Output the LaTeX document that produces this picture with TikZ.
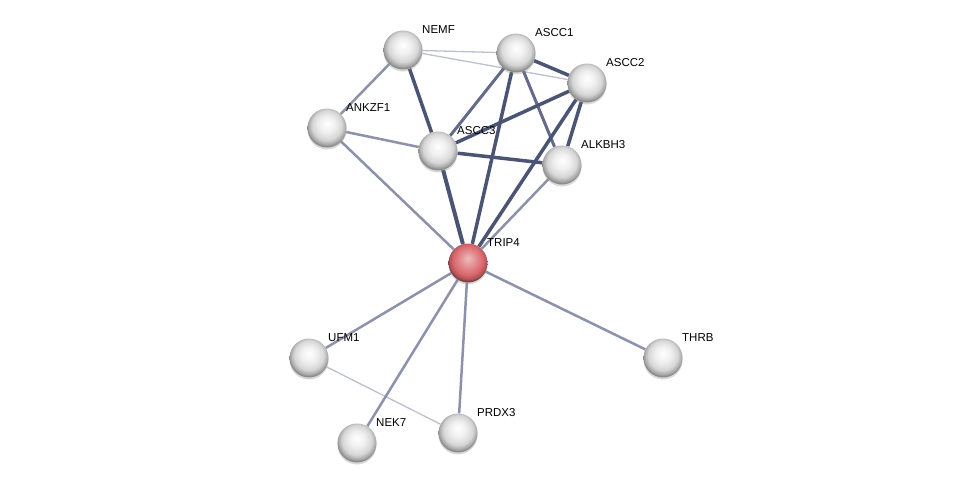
\documentclass[tikz,border=0pt]{standalone}
\usepackage{fontspec}
\setmainfont{Liberation Sans}
\usetikzlibrary{backgrounds,shadows}
\definecolor{edgedark}{HTML}{4C5474}
\definecolor{edgemid}{HTML}{646B8A}
\definecolor{edgelight}{HTML}{8C92AB}
\definecolor{edgefaint}{HTML}{BDC0CE}
\definecolor{redball}{HTML}{D9686C}
\pgfdeclareradialshading{greyball}{\pgfpoint{0bp}{6bp}}{color(0bp)=(white);
  color(10bp)=(white!94!black); color(19bp)=(white!84!black);
  color(24bp)=(white!66!black); color(26bp)=(white!55!black); color(50bp)=(white!55!black)}
\pgfdeclareradialshading{redshade}{\pgfpoint{0bp}{6bp}}{color(0bp)=(redball!45!white);
  color(10bp)=(redball!75!white); color(19bp)=(redball);
  color(24bp)=(redball!80!black); color(26bp)=(redball!60!black); color(50bp)=(redball!60!black)}
\tikzset{
  prot/.style={circle,minimum size=39pt,inner sep=0pt,shading=greyball,
    drop shadow={shadow xshift=0pt,shadow yshift=-2pt,opacity=0.3}},
  query/.style={prot,shading=redshade},
  lbl/.style={anchor=base west,inner sep=0pt,font=\fontsize{11.5}{13}\selectfont},
  strong/.style={edgedark,line width=3.5pt},
  medium/.style={edgemid,line width=3pt},
  weak/.style={edgelight,line width=2.5pt},
  faint/.style={edgefaint,line width=1.3pt}
}
\begin{document}
\begin{tikzpicture}[x=1pt,y=-1pt]
  \useasboundingbox (0,0) rectangle (976,488);
  \foreach \n/\x/\y in {NEMF/403/50, ASCC1/516/53, ASCC2/587/83, ANKZF1/327/128,
      ASCC3/438/151, ALKBH3/562/165, UFM1/309/358, THRB/663/358,
      NEK7/357/443, PRDX3/458/433} {
    \node[prot] (\n) at (\x,\y) {};
    \node[lbl] (\n-lbl) at ({\x+19},{\y-17}) {\n};
  }
  \node[query] (TRIP4) at (468,263) {};
  \node[lbl] (TRIP4-lbl) at (487,246) {TRIP4};
  \begin{pgfonlayer}{background}
    \draw[faint] (NEMF) -- (ASCC1);
    \draw[faint] (NEMF) -- (ASCC2);
    \draw[faint] (UFM1) -- (PRDX3);
    \draw[weak] (NEMF) -- (ANKZF1);
    \draw[weak] (ANKZF1) -- (ASCC3);
    \draw[weak] (ANKZF1) -- (TRIP4);
    \draw[weak] (ALKBH3) -- (TRIP4);
    \draw[weak] (TRIP4) -- (UFM1);
    \draw[weak] (TRIP4) -- (NEK7);
    \draw[weak] (TRIP4) -- (PRDX3);
    \draw[weak] (TRIP4) -- (THRB);
    \draw[medium] (ASCC1) -- (ASCC3);
    \draw[medium] (ASCC1) -- (ALKBH3);
    \draw[strong] (NEMF) -- (ASCC3);
    \draw[strong] (ASCC1) -- (ASCC2);
    \draw[strong] (ASCC2) -- (ASCC3);
    \draw[strong] (ASCC2) -- (ALKBH3);
    \draw[strong] (ASCC3) -- (ALKBH3);
    \draw[strong] (ASCC1) -- (TRIP4);
    \draw[strong] (ASCC2) -- (TRIP4);
    \draw[strong,line width=4pt] (ASCC3) -- (TRIP4);
  \end{pgfonlayer}
\end{tikzpicture}
\end{document}
